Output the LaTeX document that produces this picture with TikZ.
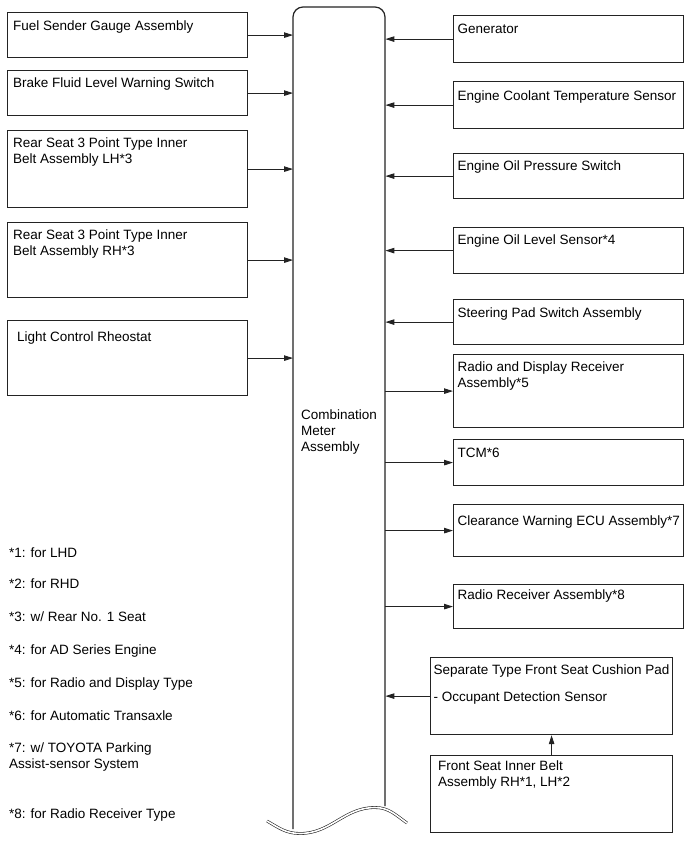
\documentclass[tikz,border=0pt]{standalone}
\usepackage{fontspec}
\setmainfont{Liberation Sans}
\usetikzlibrary{arrows.meta}
\definecolor{frame}{RGB}{35,35,35}
\tikzset{
  >={Triangle[length=9pt,width=5.5pt]},
  unit/.style={draw=frame,line width=1.2pt,anchor=north west,inner sep=0pt,minimum width=#1},
  unit/.default=240pt,
  txt/.style={anchor=north west,inner sep=0pt,align=left,font=\fontsize{13.5}{16}\selectfont},
  sig/.style={->,draw=frame,line width=0.9pt},
}
\begin{document}
\begin{tikzpicture}[x=1pt,y=1pt]
  \useasboundingbox (0,0) rectangle (689,-854);
  % combination meter (open at the bottom)
  \node[minimum width=92pt,minimum height=822pt,anchor=north west,inner sep=0pt] (meter) at (293,-7) {};
  \draw[frame,line width=1.2pt,rounded corners=10pt] (293,-829) -- (293,-7) -- (385,-7) -- (385,-806);
  \draw[frame,line width=0.6pt,double=white,double distance=1.6pt]
    (267,-821) to[out=-30,in=180] (300,-833.5) to[out=0,in=180] (375,-807.5) to[out=0,in=145] (407,-823);
  \node[txt] (meter-t) at (301,-410) {Combination\\Meter\\Assembly};

  % inputs on the left
  \node[unit,minimum height=45pt] (fuel) at (7,-12) {};
  \node[txt] (fuel-t) at (13,-21) {Fuel Sender Gauge Assembly};
  \node[unit,minimum height=45pt] (brake) at (7,-70) {};
  \node[txt] (brake-t) at (13,-78) {Brake Fluid Level Warning Switch};
  \node[unit,minimum height=77pt] (rearlh) at (7,-130) {};
  \node[txt] (rearlh-t) at (13,-138) {Rear Seat 3 Point Type Inner\\Belt Assembly LH*3};
  \node[unit,minimum height=75pt] (rearrh) at (7,-222) {};
  \node[txt] (rearrh-t) at (13,-230) {Rear Seat 3 Point Type Inner\\Belt Assembly RH*3};
  \node[unit,minimum height=75pt] (light) at (7,-320) {};
  \node[txt] (light-t) at (17,-332) {Light Control Rheostat};
  \foreach \n in {fuel,brake,rearlh,rearrh,light}
    \draw[sig] (\n.east) -- (\n.east -| meter.west);

  % inputs on the right
  \node[unit=230pt,minimum height=47pt] (gen) at (453,-15) {};
  \node[txt] (gen-t) at (457.5,-24) {Generator};
  \node[unit=230pt,minimum height=47pt] (coolant) at (453,-81) {};
  \node[txt] (coolant-t) at (457.5,-91) {Engine Coolant Temperature Sensor};
  \node[unit=230pt,minimum height=45pt] (oilpress) at (453,-153) {};
  \node[txt] (oilpress-t) at (457.5,-161) {Engine Oil Pressure Switch};
  \node[unit=230pt,minimum height=46pt] (oillevel) at (453,-227) {};
  \node[txt] (oillevel-t) at (457.5,-235) {Engine Oil Level Sensor*4};
  \node[unit=230pt,minimum height=45pt] (steer) at (453,-299) {};
  \node[txt] (steer-t) at (457.5,-308) {Steering Pad Switch Assembly};
  \foreach \n in {gen,coolant,oilpress,oillevel,steer}
    \draw[sig] (\n.west) -- (\n.west -| meter.east);

  % outputs on the right
  \node[unit=230pt,minimum height=73pt] (radio) at (453,-354) {};
  \node[txt] (radio-t) at (457.5,-362) {Radio and Display Receiver\\Assembly*5};
  \node[unit=230pt,minimum height=46pt] (tcm) at (453,-439) {};
  \node[txt] (tcm-t) at (457.5,-448) {TCM*6};
  \node[unit=230pt,minimum height=52pt] (clearance) at (453,-504) {};
  \node[txt] (clearance-t) at (457.5,-516) {Clearance Warning ECU Assembly*7};
  \node[unit=230pt,minimum height=44pt] (receiver) at (453,-584) {};
  \node[txt] (receiver-t) at (457.5,-590) {Radio Receiver Assembly*8};
  \foreach \n in {radio,tcm,clearance,receiver}
    \draw[sig] (\n.west -| meter.east) -- (\n.west);

  % occupant detection
  \node[unit=242pt,minimum height=77pt] (cushion) at (430,-657) {};
  \node[txt] (cushion-t) at (433.5,-665) {Separate Type Front Seat Cushion Pad\\[11pt]- Occupant Detection Sensor};
  \node[unit=242pt,minimum height=77pt] (belt) at (430,-755) {};
  \node[txt] (belt-t) at (438,-761) {Front Seat Inner Belt\\Assembly RH*1, LH*2};
  \draw[sig] (cushion.west) -- (cushion.west -| meter.east);
  \draw[sig] (belt.north) -- (cushion.south);

  % notes
  \node[txt] (fn1) at (9,-548) {*1: for LHD};
  \node[txt] (fn2) at (9,-579) {*2: for RHD};
  \node[txt] (fn3) at (9,-612) {*3: w/ Rear No. 1 Seat};
  \node[txt] (fn4) at (9,-645) {*4: for AD Series Engine};
  \node[txt] (fn5) at (9,-678) {*5: for Radio and Display Type};
  \node[txt] (fn6) at (9,-711) {*6: for Automatic Transaxle};
  \node[txt] (fn7) at (9,-743) {*7: w/ TOYOTA Parking\\Assist-sensor System};
  \node[txt] (fn8) at (9,-809) {*8: for Radio Receiver Type};
\end{tikzpicture}
\end{document}
